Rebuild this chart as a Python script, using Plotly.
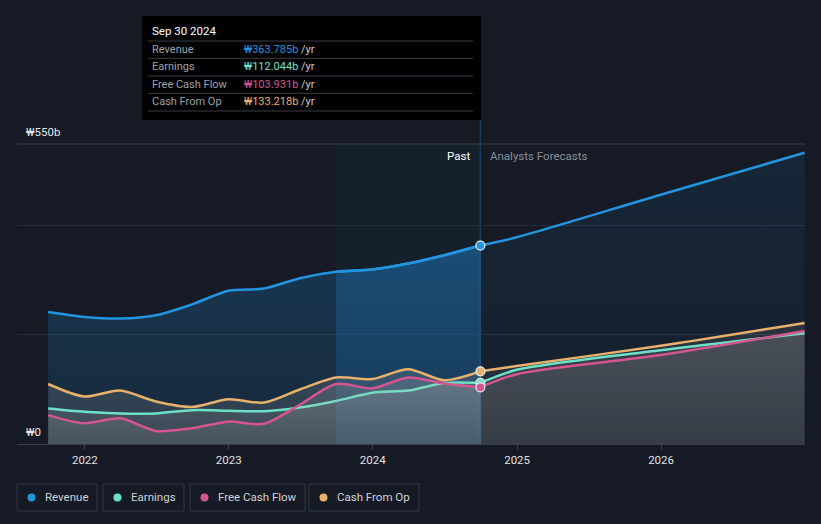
import plotly.graph_objects as go

# quarterly history (trailing twelve months, KRW billions)
past_dates = [
    "2021-09-30", "2021-12-31", "2022-03-31", "2022-06-30", "2022-09-30",
    "2022-12-31", "2023-03-31", "2023-06-30", "2023-09-30", "2023-12-31",
    "2024-03-31", "2024-06-30", "2024-09-30",
]
revenue_past = [242, 233, 230, 236, 256, 281, 285, 304, 316, 320, 331, 346, 363.785]
earnings_past = [65, 59, 56, 56, 62, 61, 60, 67, 79, 94, 98, 112, 112.044]
fcf_past = [53, 38, 47, 24, 29, 41, 37, 72, 110, 102, 122, 111, 103.931]
cfo_past = [110, 87, 98, 78, 68, 82, 76, 100, 122, 119, 137, 117, 133.218]

# analyst forecasts
fc_dates = ["2024-09-30", "2024-12-31", "2025-12-31", "2026-12-31"]
revenue_fc = [363.785, 379, 457, 534]
earnings_fc = [112.044, 136, 172, 203]
fcf_fc = [103.931, 128, 163, 207]
cfo_fc = [133.218, 143, 180, 222]

names = ["Revenue", "Earnings", "Free Cash Flow", "Cash From Op"]
colors = ["#2394df", "#6ee0c5", "#d4558f", "#e8b06a"]
tip_values = ["₩363.785b", "₩112.044b", "₩103.931b", "₩133.218b"]

BG = "#151a24"
FONT = "Roboto"
LAST_YEAR = 8  # index of Sep 30 2023 in past_dates


# page pixel -> paper coords (plot area is x 17..805, y 144..444)
def px(x):
    return (x - 17) / 788


def py(y):
    return (444 - y) / 300


def grad(rgb, lo, hi):
    return dict(type="vertical",
                colorscale=[[0, f"rgba({rgb},{lo})"], [1, f"rgba({rgb},{hi})"]])


fig = go.Figure()

# revenue first, the grey fills of the other series sit on top of it
fig.add_trace(go.Scatter(
    x=past_dates, y=revenue_past, mode="lines", fill="tozeroy",
    fillgradient=grad("35,148,223", 0.12, 0.24),
    line=dict(color=colors[0], width=2.5, shape="spline", smoothing=0.8),
    hoverinfo="skip",
))
# stronger fill over the last reported year
fig.add_trace(go.Scatter(
    x=past_dates[LAST_YEAR:], y=revenue_past[LAST_YEAR:], mode="lines", fill="tozeroy",
    fillgradient=grad("30,140,225", 0.10, 0.22),
    line=dict(color=colors[0], width=2.5, shape="spline", smoothing=0.8),
    hoverinfo="skip",
))
fig.add_trace(go.Scatter(
    x=fc_dates, y=revenue_fc, mode="lines", fill="tozeroy",
    fillgradient=grad("35,148,223", 0.04, 0.10),
    line=dict(color=colors[0], width=2.5, shape="spline", smoothing=0.8),
    hoverinfo="skip",
))

for past, fc, idx in [(cfo_past, cfo_fc, 3), (earnings_past, earnings_fc, 1), (fcf_past, fcf_fc, 2)]:
    fig.add_trace(go.Scatter(
        x=past_dates, y=past, mode="lines", fill="tozeroy",
        fillgradient=grad("185,182,180", 0.11, 0.19),
        line=dict(color=colors[idx], width=2.5, shape="spline", smoothing=0.8),
        hoverinfo="skip",
    ))
    fig.add_trace(go.Scatter(
        x=fc_dates, y=fc, mode="lines", fill="tozeroy",
        fillgradient=grad("160,158,155", 0.085, 0.14),
        line=dict(color=colors[idx], width=2.5, shape="spline", smoothing=0.8),
        hoverinfo="skip",
    ))

# markers at the last reported date
for past, idx in [(cfo_past, 3), (earnings_past, 1), (fcf_past, 2), (revenue_past, 0)]:
    fig.add_trace(go.Scatter(
        x=[past_dates[-1]], y=[past[-1]], mode="markers",
        marker=dict(color=colors[idx], size=9, line=dict(color="#e8ecf0", width=1.2)),
        hoverinfo="skip",
    ))

shapes = [
    # last-year highlight
    dict(type="rect", xref="x", yref="paper", x0=past_dates[LAST_YEAR], x1=past_dates[-1],
         y0=0, y1=1, fillcolor="rgba(35,148,223,0.05)", line_width=0, layer="below"),
    # divider up to the tooltip
    dict(type="line", xref="x", yref="paper", x0=past_dates[-1], x1=past_dates[-1], y0=0, y1=py(120),
         line=dict(color="#1f3d5a", width=1.5), layer="below"),
    # top border line
    dict(type="line", xref="paper", yref="paper", x0=0, x1=1, y0=1, y1=1,
         line=dict(color="#3a404b", width=1.2)),
    # tooltip box
    dict(type="rect", xref="paper", yref="paper", x0=px(142), x1=px(481), y0=py(120), y1=py(16),
         fillcolor="#000000", line_width=0),
]
for y in [41, 58.3, 76, 93.3, 111]:
    shapes.append(dict(type="line", xref="paper", yref="paper", x0=px(148), x1=px(473),
                       y0=py(y), y1=py(y), line=dict(color="#3a3d42", width=1)))

annotations = [
    dict(text="₩550b", x=px(24), y=py(132), xanchor="left", yanchor="middle",
         font=dict(size=11.5, color="#e6e8eb")),
    dict(text="₩0", x=px(24), y=py(432), xanchor="left", yanchor="middle",
         font=dict(size=11.5, color="#e6e8eb")),
    dict(text="Past", xref="x", x=past_dates[-1], xshift=-8, y=py(156), xanchor="right",
         yanchor="middle", font=dict(size=11.5, color="#ffffff")),
    dict(text="Analysts Forecasts", xref="x", x=past_dates[-1], xshift=8, y=py(156),
         xanchor="left", yanchor="middle", font=dict(size=11.5, color="#8b9099")),
    dict(text="Sep 30 2024", x=px(150), y=py(31), xanchor="left", yanchor="middle",
         font=dict(size=11.5, color="#ffffff")),
]
for i, (n, v) in enumerate(zip(names, tip_values)):
    yy = [49, 66, 84, 101][i]
    annotations.append(dict(text=n, x=px(150), y=py(yy), xanchor="left", yanchor="middle",
                            font=dict(size=11, color="#9ea2a8")))
    annotations.append(dict(text=f"<span style='color:{colors[i]}'>{v}</span> /yr",
                            x=px(242), y=py(yy), xanchor="left", yanchor="middle",
                            font=dict(size=11, color="#c9ccd0")))

# legend drawn as boxed items
legend_boxes = [(17, 97), (103, 184), (190, 305), (309, 419)]
for (x0, x1), n, c in zip(legend_boxes, names, colors):
    shapes.append(dict(type="rect", xref="paper", yref="paper", x0=px(x0), x1=px(x1),
                       y0=py(511), y1=py(484), line=dict(color="#323843", width=1),
                       fillcolor="rgba(0,0,0,0)"))
    shapes.append(dict(type="circle", xref="paper", yref="paper",
                       x0=px(x0 + 10.5), x1=px(x0 + 18.5), y0=py(501.5), y1=py(493.5),
                       fillcolor=c, line_width=0))
    annotations.append(dict(text=n, x=px(x0 + 26), y=py(497.5), xanchor="left",
                            yanchor="middle", font=dict(size=11.5, color="#cfd2d7")))

for a in annotations:
    a.setdefault("xref", "paper")
    a.setdefault("yref", "paper")
    a["showarrow"] = False

fig.update_layout(
    width=821, height=524,
    margin=dict(l=17, r=16, t=144, b=80),
    paper_bgcolor=BG, plot_bgcolor=BG,
    font=dict(family=FONT, color="#d8dadd"),
    shapes=shapes, annotations=annotations,
    showlegend=False,
)
fig.update_xaxes(
    range=["2021-07-13", "2027-01-01"],
    tickvals=["2022-01-01", "2023-01-01", "2024-01-01", "2025-01-01", "2026-01-01"],
    ticktext=["2022", "2023", "2024", "2025", "2026"],
    showgrid=False, zeroline=False,
    showline=True, linecolor="#3a404b", linewidth=1.2,
    ticks="outside", ticklen=5, tickcolor="#3a404b",
    tickfont=dict(size=11.5, color="#e0e2e5"),
)
fig.update_yaxes(
    range=[0, 550], tickvals=[0, 200, 400], showticklabels=False,
    showgrid=True, gridcolor="#262c37", gridwidth=1, zeroline=False,
)

# drop the browser's default page margin so the figure sits at 0,0
fig.write_html(
    "out.html",
    config={"displayModeBar": False},
    post_script="document.body.style.margin='0';document.body.style.background='%s';" % BG,
)
